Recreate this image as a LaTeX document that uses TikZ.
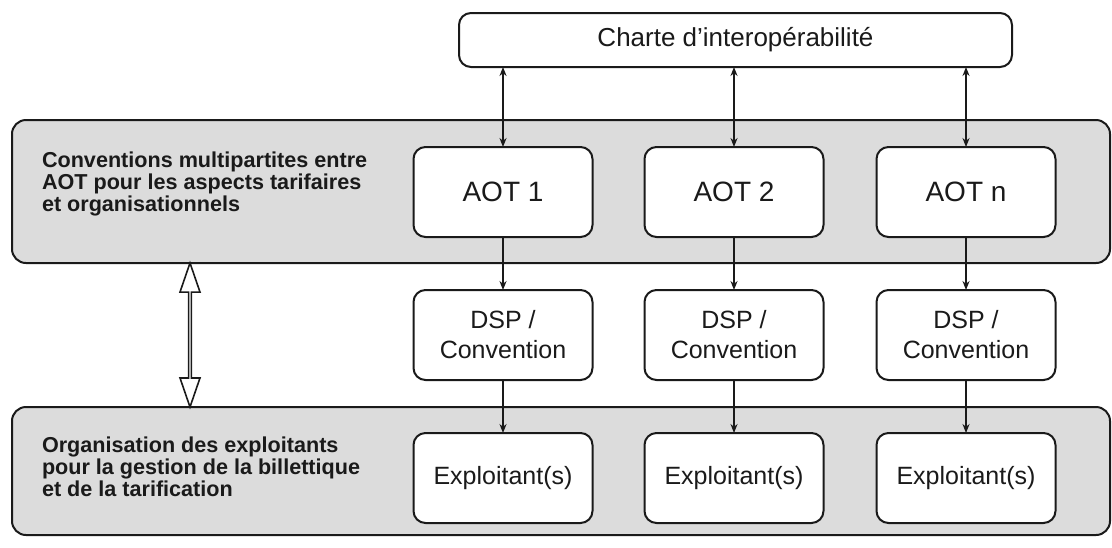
\documentclass[tikz,border=0pt]{standalone}
\usepackage{fontspec}
\setmainfont{Liberation Sans}
\usetikzlibrary{arrows.meta,shapes.arrows}
\definecolor{aotBand}{HTML}{DCDCDC}
\definecolor{aotInk}{HTML}{1A1A1A}
\tikzset{
  aot diagram/.style={
    x=0.5pt, y=-0.5pt, line width=1pt, draw=aotInk,
    >={Stealth[length=4.5pt,width=3.5pt]},
    every node/.style={inner sep=0pt, outer sep=0pt, text=aotInk}
  },
  aot band/.style={draw=aotInk, fill=aotBand, rounded corners=7pt,
    minimum width=549pt},
  aot box/.style={draw=aotInk, fill=white, rounded corners=6pt,
    minimum width=89.5pt, minimum height=45pt, align=center,
    font=\fontsize{12.5}{15}\selectfont},
  aot label/.style={anchor=west, align=left,
    font=\fontsize{10.8}{11}\selectfont\bfseries},
  aot link/.style={double arrow, draw=aotInk, fill=white, line width=0.8pt,
    rotate=90, minimum height=72pt, minimum width=10pt,
    double arrow head extend=2.5pt, double arrow tip angle=38}
}

\begin{document}
\begin{tikzpicture}[aot diagram]
    \useasboundingbox (0,0) rectangle (1112,547);
    % the two levels
    \node[aot band, minimum height=71.5pt] (conv band) at (561,191.5) {};
    \node[aot band, minimum height=64pt] (org band) at (561,471) {};
    \node[aot label] (conv text) at (42,184)
      {Conventions multipartites entre\\AOT pour les aspects tarifaires\\et organisationnels};
    \node[aot label] (org text) at (42,467)
      {Organisation des exploitants\\pour la gestion de la billettique\\et de la tarification};
    \node[aot link] (link) at (190,335) {};
    % boxes
    \node[aot box, minimum width=276.5pt, minimum height=27pt,
      font=\fontsize{13}{15}\selectfont] (charte) at (735.5,40)
      {Charte d’interopérabilité};
    \node[aot box, font=\fontsize{14}{16}\selectfont] (aot1) at (503,192) {AOT 1};
    \node[aot box, font=\fontsize{14}{16}\selectfont] (aot2) at (734,192) {AOT 2};
    \node[aot box, font=\fontsize{14}{16}\selectfont] (aotn) at (966,192) {AOT n};
    \node[aot box] (dsp1) at (503,335) {DSP /\\Convention};
    \node[aot box] (dsp2) at (734,335) {DSP /\\Convention};
    \node[aot box] (dspn) at (966,335) {DSP /\\Convention};
    \node[aot box] (expl1) at (503,478) {Exploitant(s)};
    \node[aot box] (expl2) at (734,478) {Exploitant(s)};
    \node[aot box] (expln) at (966,478) {Exploitant(s)};
    % connectors
    \draw[<->] (aot1 |- charte.south) -- (aot1.north);
    \draw[<->] (aot2 |- charte.south) -- (aot2.north);
    \draw[<->] (aotn |- charte.south) -- (aotn.north);
    \draw[->] (aot1) -- (dsp1);
    \draw[->] (aot2) -- (dsp2);
    \draw[->] (aotn) -- (dspn);
    \draw[->] (dsp1) -- (expl1);
    \draw[->] (dsp2) -- (expl2);
    \draw[->] (dspn) -- (expln);
  \end{tikzpicture}
\end{document}
